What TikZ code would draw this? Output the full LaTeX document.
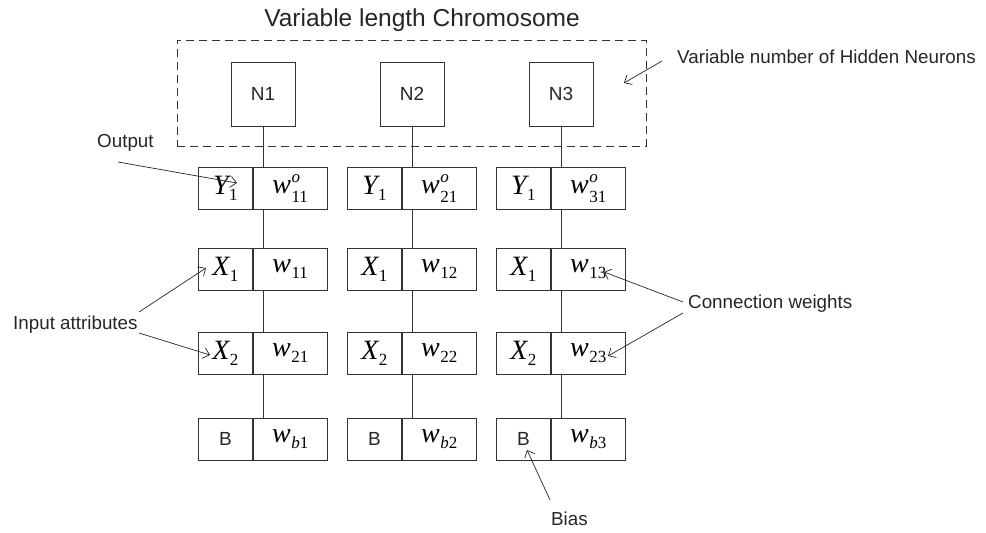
\documentclass[tikz,border=0pt]{standalone}
\usepackage{fontspec}
\setmainfont{Liberation Sans}
\newfontfamily\tms{Liberation Serif}
\usetikzlibrary{arrows.meta}

% italic symbol with subscript (#2), optionally with a superscript (\mvarsup)
\newcommand\scr{\tms\fontsize{17}{17}\selectfont}
\newcommand\mvar[2]{{\tms\fontsize{28}{28}\selectfont\itshape #1}\kern0.5pt\raisebox{-6pt}{\scr #2}}
\newcommand\mvarsup[3]{{\tms\fontsize{28}{28}\selectfont\itshape #1}\kern0.5pt\rlap{\raisebox{11pt}{\scr\itshape #3}}\raisebox{-9pt}{\scr #2}}

\tikzset{
  cellbox/.style={draw=black!80, line width=0.8pt, minimum height=42pt, inner sep=0pt},
  lcell/.style={cellbox, minimum width=54pt, anchor=north west},
  rcell/.style={cellbox, minimum width=74pt, anchor=west},
  nbox/.style={draw=black!80, line width=0.8pt, minimum width=64pt, minimum height=64pt,
    inner sep=0pt, font=\fontsize{19}{19}\selectfont, text=black!85},
  link/.style={draw=black!80, line width=0.8pt},
  lbl/.style={font=\fontsize{18.8}{22}\selectfont, text=black!85, inner sep=0pt, anchor=base west},
  pointer/.style={draw=black!85, line width=0.7pt, -{Straight Barb[length=6pt,width=11pt]}},
}

\begin{document}
\begin{tikzpicture}[x=1pt,y=-1pt]
\useasboundingbox (0,0) rectangle (986,533);

% title and the dashed group of hidden neurons
\node[font=\fontsize{24.5}{28}\selectfont, text=black!85, inner sep=0pt, anchor=base] (title) at (422,26) {Variable length Chromosome};
\node[draw=black!80, line width=0.8pt, dash pattern=on 8pt off 5pt, minimum width=469pt, minimum height=106pt, inner sep=0pt] (grp) at (411.5,93) {};

% one column per hidden neuron
\foreach \c/\x in {1/198,2/347,3/496}{
  \node[nbox] (n\c) at ({\x+65},94) {N\c};
  \node[lcell] (y\c) at (\x,167) {\mvar{Y}{1}};
  \node[rcell] (yw\c) at (y\c.east) {\mvarsup{w}{\c1}{o}};
  \node[lcell] (a\c) at (\x,248) {\mvar{X}{1}};
  \node[rcell] (aw\c) at (a\c.east) {\mvar{w}{1\c}};
  \node[lcell] (b\c) at (\x,332) {\mvar{X}{2}};
  \node[rcell] (bw\c) at (b\c.east) {\mvar{w}{2\c}};
  \node[lcell, font=\fontsize{19}{19}\selectfont, text=black!85] (z\c) at (\x,418) {B};
  \node[rcell] (zw\c) at (z\c.east) {\mvar{w}{{\itshape b}\c}};
  \draw[link] (n\c.south) -- (n\c.south |- yw\c.north);
  \draw[link] (yw\c.south -| n\c.south) -- (aw\c.north -| n\c.south);
  \draw[link] (aw\c.south -| n\c.south) -- (bw\c.north -| n\c.south);
  \draw[link] (bw\c.south -| n\c.south) -- (zw\c.north -| n\c.south);
}

% annotations
\node[lbl] (hid) at (677,63) {Variable number of Hidden Neurons};
\coordinate (hidfrom) at (662,61);
\coordinate (hidto) at (624,83);
\draw[pointer] (hidfrom) -- (hidto);

\node[lbl] (out) at (97,147) {Output};
\coordinate (outfrom) at (118,162);
\coordinate (outto) at (237,183);
\draw[pointer] (outfrom) -- (outto);

\node[lbl] (inp) at (13,329) {Input attributes};
\coordinate (inpfrom1) at (139,312);
\coordinate (inpto1) at (206,268);
\coordinate (inpfrom2) at (139,333);
\coordinate (inpto2) at (210,355);
\draw[pointer] (inpfrom1) -- (inpto1);
\draw[pointer] (inpfrom2) -- (inpto2);

\node[lbl] (cw) at (688,308) {Connection weights};
\coordinate (cwfrom1) at (683,302);
\coordinate (cwto1) at (604,272);
\coordinate (cwfrom2) at (683,313);
\coordinate (cwto2) at (608,356);
\draw[pointer] (cwfrom1) -- (cwto1);
\draw[pointer] (cwfrom2) -- (cwto2);

\node[lbl] (bias) at (551,525) {Bias};
\coordinate (biasfrom) at (550,500);
\coordinate (biasto) at (527,450);
\draw[pointer] (biasfrom) -- (biasto);
\end{tikzpicture}
\end{document}
